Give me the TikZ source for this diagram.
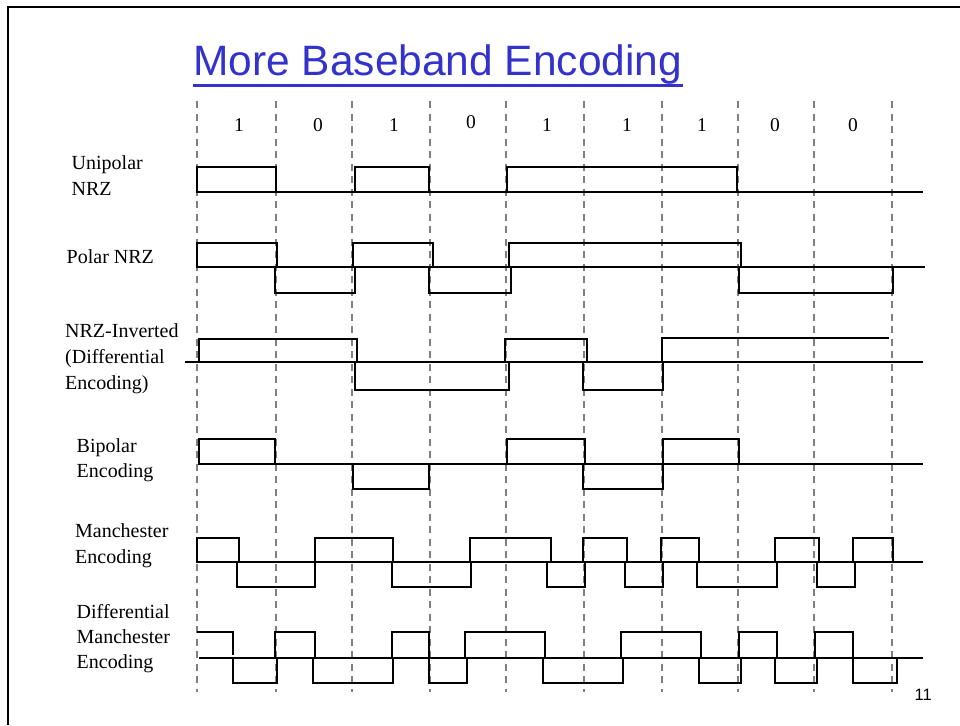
\documentclass[tikz,border=0pt]{standalone}
\usepackage{fontspec}
\setmainfont{Liberation Serif}
\newfontfamily\sansf{Liberation Sans}
\definecolor{titleblue}{HTML}{3333CC}
\definecolor{guidegray}{HTML}{808080}
\begin{document}
\begin{tikzpicture}[x=1pt,y=-1pt,
  guide/.style={draw=guidegray,line width=2pt,dash pattern=on 7pt off 5.5pt},
  pulse/.style={draw=black,line width=2pt,line join=miter},
  axis/.style={draw=black,line width=1.7pt},
  lbl/.style={anchor=base west,inner sep=0pt,font=\fontsize{20}{25}\selectfont},
  bit/.style={anchor=base,inner sep=0pt,font=\fontsize{19.5}{22}\selectfont}]
\useasboundingbox (0,0) rectangle (960,725);
\fill[white] (0,0) rectangle (960,725);

% slide frame
\draw[line width=2.2pt] (8,725) -- (8,7) -- (962,7);

% title
\node[anchor=base west,inner sep=0pt,text=titleblue,font=\sansf\fontsize{42.5}{48}\selectfont] (title) at (193,75.5) {More Baseband Encoding};
\draw[titleblue,line width=2.4pt] (title.base west) ++(0,10) -- ++(490,0);

% bit-period guides
\foreach \gx [count=\gi] in {197,276,352,430,506,584,662,738,814,892}
  \draw[guide] (\gx,101) -- (\gx,692);

% data bits
\foreach \bx/\by/\bv [count=\bi] in {239/131/1,318/131/0,394/131/1,471/128/0,547/131/1,627/131/1,702/131/1,775/131/0,853/131/0}
  \node[bit] (bit\bi) at (\bx,\by) {\bv};

% row labels
\node[lbl] (uni1) at (71.5,169) {Unipolar};
\node[lbl] (uni2) at (71.5,195) {NRZ};
\node[lbl] (pol1) at (66.5,263) {Polar NRZ};
\node[lbl] (nrzi1) at (65,337) {NRZ-Inverted};
\node[lbl] (nrzi2) at (65,363) {(Differential};
\node[lbl] (nrzi3) at (65,389) {Encoding)};
\node[lbl] (bip1) at (76.5,452) {Bipolar};
\node[lbl] (bip2) at (76.5,477) {Encoding};
\node[lbl] (man1) at (75,537) {Manchester};
\node[lbl] (man2) at (75,563) {Encoding};
\node[lbl] (dman1) at (76.5,618) {Differential};
\node[lbl] (dman2) at (76.5,643.5) {Manchester};
\node[lbl] (dman3) at (76.5,668.5) {Encoding};

% Unipolar NRZ
\draw[axis] (197,192) -- (923,192);
\foreach \a/\b in {197/276,355/429,507/737}
  \draw[pulse] (\a,167) rectangle (\b,192);

% Polar NRZ
\draw[axis] (197,267) -- (925,267);
\foreach \a/\b in {197/277,353/433,509/741}
  \draw[pulse] (\a,243) rectangle (\b,267);
\foreach \a/\b in {275/355,429/511,739/893}
  \draw[pulse] (\a,267) rectangle (\b,293);

% NRZ-Inverted
\draw[axis] (185,362) -- (923,362);
\foreach \a/\b in {199/357,505/587}
  \draw[pulse] (\a,339) rectangle (\b,362);
\foreach \a/\b in {355/509,583/663}
  \draw[pulse] (\a,362) rectangle (\b,390);
\draw[pulse] (662,362) -- (662,338) -- (889,338);

% Bipolar
\draw[axis] (198,464) -- (923,464);
\foreach \a/\b in {199/275,507/585,663/739}
  \draw[pulse] (\a,439) rectangle (\b,464);
\foreach \a/\b in {353/429,583/663}
  \draw[pulse] (\a,464) rectangle (\b,489);

% Manchester
\draw[axis] (197,562) -- (923,562);
\foreach \a/\b in {197/239,315/393,470/551,583/627,661/699,775/819,853/893}
  \draw[pulse] (\a,538) rectangle (\b,562);
\foreach \a/\b in {237/315,392/471,547/585,625/663,697/777,817/855}
  \draw[pulse] (\a,562) rectangle (\b,587);

% Differential Manchester
\draw[axis] (199,658) -- (923,658);
\draw[pulse] (197,632) -- (233,632) -- (233,655);
\foreach \a/\b in {275/315,392/429,465/545,621/701,739/777,815/853}
  \draw[pulse] (\a,632) rectangle (\b,658);
\foreach \a/\b in {233/277,313/393,429/467,543/623,699/741,775/817,853/897}
  \draw[pulse] (\a,658) rectangle (\b,683);

% page number
\node[anchor=base west,inner sep=0pt,font=\sansf\fontsize{16.5}{20}\selectfont] (page) at (914.5,700) {11};
\end{tikzpicture}
\end{document}
